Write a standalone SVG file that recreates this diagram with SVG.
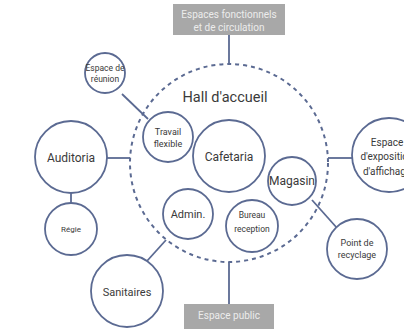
<svg xmlns="http://www.w3.org/2000/svg" width="404" height="329" viewBox="0 0 404 329">
<style>
.n{fill:#fff;stroke:#5b6a92;stroke-width:1.8}
.c line{stroke:#5b6a92;stroke-width:1.8}
.t{font-family:"Liberation Sans Narrow","Roboto","Liberation Sans",sans-serif;fill:#3a3a3a;text-anchor:middle}
.b{fill:#a8a8a8}
.bt{font-family:"Liberation Sans Narrow","Roboto","Liberation Sans",sans-serif;fill:#ececec;text-anchor:middle;font-size:10px}
</style>
<rect width="404" height="329" fill="#fff"/>
<g class="c" id="connectors">
<line x1="229" y1="35" x2="229" y2="65"/>
<line x1="229" y1="262" x2="229" y2="304"/>
<line x1="122" y1="94" x2="148" y2="119"/>
<line x1="107" y1="158" x2="130" y2="158"/>
<line x1="71" y1="193" x2="71" y2="203"/>
<line x1="328" y1="158" x2="352" y2="158"/>
<line x1="166" y1="240" x2="147" y2="261"/>
<line x1="312" y1="200" x2="337" y2="228"/>
</g>
<g id="hall">
<circle cx="229" cy="163" r="99" fill="none" stroke="#5b6a92" stroke-width="2" stroke-dasharray="4 4"/>
<text class="t" x="225" y="102" font-size="14.5">Hall d'accueil</text>
</g>
<g id="top-box">
<rect class="b" x="173" y="4" width="112" height="31"/>
<text class="bt" x="229" y="18">Espaces fonctionnels</text>
<text class="bt" x="229" y="31">et de circulation</text>
</g>
<g id="bottom-box">
<rect class="b" x="184" y="304" width="90" height="25"/>
<text class="bt" x="229" y="319">Espace public</text>
</g>
<g id="reunion">
<circle class="n" cx="105" cy="73" r="20"/>
<text class="t" x="105" y="71" font-size="8.5">Espace de</text>
<text class="t" x="105" y="82" font-size="8.5">réunion</text>
</g>
<g id="travail">
<circle class="n" cx="168" cy="137" r="25"/>
<text class="t" x="168" y="135" font-size="9">Travail</text>
<text class="t" x="168" y="147" font-size="9">flexible</text>
</g>
<g id="cafetaria">
<circle class="n" cx="229" cy="156" r="36"/>
<text class="t" x="229" y="161" font-size="12">Cafetaria</text>
</g>
<g id="magasin">
<circle class="n" cx="292" cy="181" r="24"/>
<text class="t" x="292" y="185" font-size="12">Magasin</text>
</g>
<g id="exposition">
<circle class="n" cx="389" cy="155" r="37"/>
<text class="t" x="387" y="146" font-size="10">Espace</text>
<text class="t" x="387" y="160" font-size="10">d'exposition</text>
<text class="t" x="387" y="175" font-size="10">d'affichage</text>
</g>
<g id="auditoria">
<circle class="n" cx="71" cy="157" r="36"/>
<text class="t" x="71" y="162" font-size="12">Auditoria</text>
</g>
<g id="regie">
<circle class="n" cx="71" cy="229" r="26"/>
<text class="t" x="71" y="232" font-size="8">Régie</text>
</g>
<g id="admin">
<circle class="n" cx="188" cy="214" r="25"/>
<text class="t" x="188" y="218" font-size="11">Admin.</text>
</g>
<g id="bureau">
<circle class="n" cx="252" cy="226" r="26"/>
<text class="t" x="252" y="218" font-size="8.5">Bureau</text>
<text class="t" x="252" y="232" font-size="8.5">reception</text>
</g>
<g id="sanitaires">
<circle class="n" cx="127" cy="291" r="36"/>
<text class="t" x="127" y="296" font-size="11">Sanitaires</text>
</g>
<g id="recyclage">
<circle class="n" cx="357" cy="249" r="30"/>
<text class="t" x="357" y="246" font-size="9">Point de</text>
<text class="t" x="357" y="258" font-size="9">recyclage</text>
</g>
</svg>
